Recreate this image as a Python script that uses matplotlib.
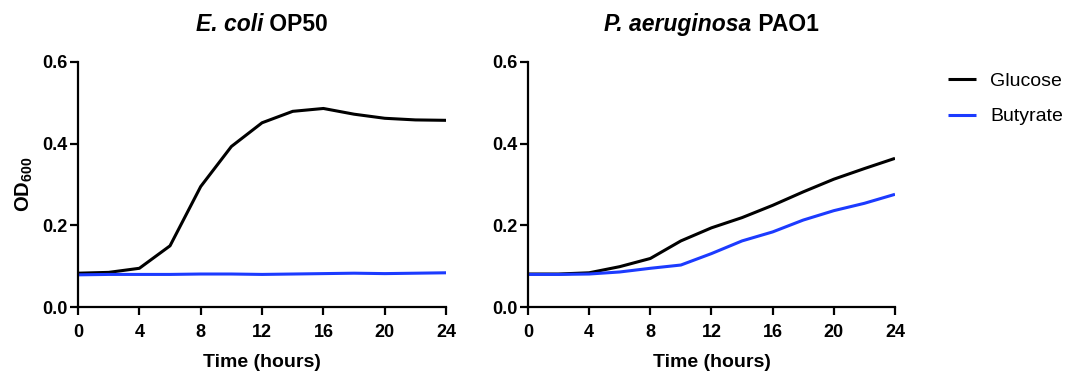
import numpy as np
import matplotlib
matplotlib.use('Agg')
import matplotlib.pyplot as plt
from matplotlib.offsetbox import TextArea, HPacker, AnchoredOffsetbox

plt.rcParams['font.family'] = ['Liberation Sans', 'DejaVu Sans']
plt.rcParams['mathtext.fontset'] = 'custom'
plt.rcParams['mathtext.bf'] = 'Liberation Sans:bold'
plt.rcParams['mathtext.rm'] = 'Liberation Sans:bold'

# data
hours = [0, 2, 4, 6, 8, 10, 12, 14, 16, 18, 20, 22, 24]
ecoli_glucose = [0.083, 0.085, 0.095, 0.150, 0.295, 0.393, 0.451, 0.479, 0.486, 0.472, 0.462, 0.458, 0.457]
ecoli_butyrate = [0.079, 0.080, 0.080, 0.080, 0.081, 0.081, 0.080, 0.081, 0.082, 0.083, 0.082, 0.083, 0.084]
pa_glucose = [0.081, 0.081, 0.084, 0.099, 0.119, 0.162, 0.194, 0.219, 0.249, 0.282, 0.313, 0.339, 0.364]
pa_butyrate = [0.080, 0.080, 0.081, 0.086, 0.095, 0.103, 0.131, 0.162, 0.184, 0.213, 0.236, 0.254, 0.276]

titles = [('E. coli', ' OP50'), ('P. aeruginosa', ' PAO1')]
xticks = [0, 4, 8, 12, 16, 20, 24]
yticks = [0.0, 0.2, 0.4, 0.6]

BLUE = '#1c3bff'

fig = plt.figure(figsize=(10.67, 3.75), dpi=100)
ax1 = fig.add_axes([0.0731, 0.181, 0.345, 0.654])
ax2 = fig.add_axes([0.4948, 0.181, 0.344, 0.654])

panels = [(ax1, ecoli_glucose, ecoli_butyrate), (ax2, pa_glucose, pa_butyrate)]
for i, (ax, glc, but) in enumerate(panels):
    ax.plot(hours, glc, color='black', lw=2.2, label='Glucose', solid_capstyle='butt')
    ax.plot(hours, but, color=BLUE, lw=2.2, label='Butyrate', solid_capstyle='butt')
    ax.set_xlim(0, 24)
    ax.set_ylim(0, 0.6)
    ax.set_xticks(xticks)
    ax.set_yticks(yticks)
    ax.set_yticklabels(['%.1f' % v for v in yticks])
    for s in ['top', 'right']:
        ax.spines[s].set_visible(False)
    for s in ['left', 'bottom']:
        ax.spines[s].set_linewidth(1.6)
    ax.tick_params(width=1.6, length=6, labelsize=13)
    ax.tick_params(axis='x', pad=6)
    ax.tick_params(axis='y', pad=1.5)
    for lab in ax.get_xticklabels() + ax.get_yticklabels():
        lab.set_fontweight('bold')
    ax.set_xlabel('Time (hours)', fontsize=14, fontweight='bold', labelpad=9.5)

    it, rest = titles[i]
    box = HPacker(children=[
        TextArea(it, textprops=dict(fontsize=16.5, fontweight='bold', fontstyle='italic')),
        TextArea(rest, textprops=dict(fontsize=16.5, fontweight='bold'))],
        align='baseline', pad=0, sep=0)
    anc = AnchoredOffsetbox(loc='center', child=box, frameon=False, pad=0,
                            bbox_to_anchor=(0.5, 1.152), bbox_transform=ax.transAxes,
                            borderpad=0)
    ax.add_artist(anc)

ax1.set_ylabel(r'OD$_{\mathbf{600}}$', fontsize=14.5, fontweight='bold', labelpad=5)

handles, labels = ax2.get_legend_handles_labels()
fig.legend(handles, labels, loc='upper left', bbox_to_anchor=(0.872, 0.853),
           frameon=False, fontsize=14, handlelength=1.45, handletextpad=0.72,
           labelspacing=0.9)

fig.savefig('out.png', dpi=100)
